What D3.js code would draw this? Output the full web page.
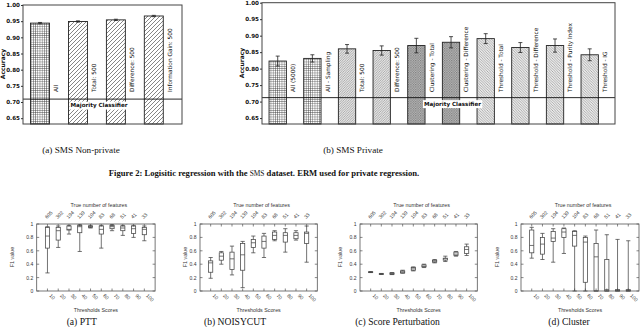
<!DOCTYPE html>
<html><head><meta charset="utf-8">
<script src="https://cdn.jsdelivr.net/npm/d3@7"></script>
<style>body{margin:0;background:#fff}svg{display:block}</style>
</head><body>
<script>
// ---------- data ----------
const nonPrivateLabels = ["All", "Total: 500", "Difference: 500", "Information Gain: 500"];
const nonPrivateAcc = [0.944, 0.949, 0.954, 0.966];
const nonPrivateErr = [0.002, 0.002, 0.002, 0.002];
const nonPrivatePattern = ["grid", "diagA", "diagA", "diagA"];
const nonPrivateMajority = 0.709;

const privateLabels = ["All (5000)", "All - Sampling", "Total: 500", "Difference: 500", "Clustering - Total",
  "Clustering - Difference", "Threshold - Total", "Threshold - Difference", "Threshold - Purity Index", "Threshold - IG"];
const privateAcc = [0.823, 0.831, 0.860, 0.855, 0.870, 0.880, 0.891, 0.864, 0.870, 0.842];
const privateErr = [0.015, 0.011, 0.013, 0.014, 0.022, 0.017, 0.015, 0.015, 0.020, 0.018];
const privatePattern = ["grid", "grid", "diagB", "diagB", "dots", "dots", "diagC", "diagC", "diagC", "diagC"];
const privateMajority = 0.712;

const accTicks = [0.65, 0.70, 0.75, 0.80, 0.85, 0.90, 0.95, 1.00];

const thresholdScores = [10, 20, 30, 40, 50, 60, 70, 80, 90, 100];
const trueFeatures = [605, 302, 194, 139, 104, 83, 68, 51, 41, 33];
const f1Ticks = [0, 0.2, 0.4, 0.6, 0.8, 1];
// [min, q1, median, q3, max]
const pttBoxes = [
  [0.27, 0.64, 0.82, 0.95, 0.96], [0.65, 0.76, 0.90, 0.95, 0.97], [0.85, 0.91, 0.92, 0.97, 0.98],
  [0.59, 0.87, 0.96, 0.98, 0.99], [0.94, 0.95, 0.96, 0.97, 0.98], [0.64, 0.85, 0.92, 0.97, 0.98],
  [0.90, 0.93, 0.96, 0.98, 0.99], [0.83, 0.90, 0.94, 0.97, 0.98], [0.80, 0.86, 0.93, 0.97, 0.98],
  [0.75, 0.84, 0.92, 0.95, 0.97]];
const noisycutBoxes = [
  [0.19, 0.28, 0.42, 0.45, 0.50], [0.40, 0.46, 0.52, 0.57, 0.59], [0.24, 0.32, 0.48, 0.58, 0.67],
  [0.05, 0.31, 0.54, 0.71, 0.74], [0.57, 0.65, 0.72, 0.77, 0.82], [0.50, 0.64, 0.74, 0.82, 0.86],
  [0.75, 0.77, 0.83, 0.88, 0.90], [0.58, 0.73, 0.83, 0.87, 0.93], [0.76, 0.78, 0.83, 0.87, 0.90],
  [0.43, 0.71, 0.86, 0.88, 0.97]];
const perturbBoxes = [
  [0.275, 0.280, 0.282, 0.285, 0.290], [0.248, 0.252, 0.255, 0.258, 0.262], [0.245, 0.250, 0.260, 0.270, 0.275],
  [0.265, 0.270, 0.285, 0.300, 0.310], [0.300, 0.310, 0.330, 0.350, 0.360], [0.350, 0.360, 0.370, 0.390, 0.400],
  [0.420, 0.430, 0.445, 0.460, 0.470], [0.440, 0.460, 0.480, 0.490, 0.520], [0.520, 0.530, 0.550, 0.580, 0.590],
  [0.530, 0.560, 0.620, 0.660, 0.700]];
const clusterBoxes = [
  [0.49, 0.57, 0.68, 0.91, 0.95], [0.47, 0.55, 0.70, 0.80, 0.86], [0.43, 0.74, 0.79, 0.89, 0.93],
  [0.56, 0.80, 0.88, 0.93, 0.94], [0.00, 0.67, 0.83, 0.89, 0.90], [0.00, 0.13, 0.73, 0.80, 0.82],
  [0.00, 0.00, 0.51, 0.71, 0.91], [0.00, 0.00, 0.02, 0.47, 0.84], [0.00, 0.00, 0.01, 0.02, 0.77],
  [0.00, 0.00, 0.01, 0.02, 0.75]];

// ---------- drawing ----------
const W = 640, H = 327;
const svg = d3.select("body").append("svg").attr("width", W).attr("height", H);
const defs = svg.append("defs");

function pattern(id, size, bg, drawFn) {
  const p = defs.append("pattern").attr("id", id).attr("patternUnits", "userSpaceOnUse")
    .attr("width", size).attr("height", size);
  p.append("rect").attr("width", size).attr("height", size).attr("fill", bg);
  drawFn(p, size);
}
pattern("grid", 2.2, "#fff", (p, s) => {
  p.append("path").attr("d", `M0,0H${s}M0,0V${s}`).attr("stroke", "#333").attr("stroke-width", 0.8);
});
pattern("diagA", 4, "#fff", (p, s) => {
  p.append("path").attr("d", `M0,${s}L${s},0M${-s / 2},${s / 2}L${s / 2},${-s / 2}M${s / 2},${s * 1.5}L${s * 1.5},${s / 2}`)
    .attr("stroke", "#333").attr("stroke-width", 0.6);
});
pattern("diagB", 2.4, "#e4e4e4", (p, s) => {
  p.append("path").attr("d", `M0,${s}L${s},0M${-s / 2},${s / 2}L${s / 2},${-s / 2}M${s / 2},${s * 1.5}L${s * 1.5},${s / 2}`)
    .attr("stroke", "#888").attr("stroke-width", 0.6);
});
pattern("diagC", 2.6, "#eaeaea", (p, s) => {
  p.append("path").attr("d", `M0,0L${s},${s}M${-s / 2},${s / 2}L${s / 2},${s * 1.5}M${s / 2},${-s / 2}L${s * 1.5},${s / 2}`)
    .attr("stroke", "#888").attr("stroke-width", 0.6);
});
pattern("dots", 2.4, "#bdbdbd", (p, s) => {
  p.append("rect").attr("x", 0).attr("y", 0).attr("width", s / 2).attr("height", s / 2).attr("fill", "#777");
  p.append("rect").attr("x", s / 2).attr("y", s / 2).attr("width", s / 2).attr("height", s / 2).attr("fill", "#888");
});

function barChart(cfg) {
  const g = svg.append("g");
  const x = d3.scaleLinear().domain(cfg.xDomain).range([cfg.left, cfg.right]);
  const y = d3.scaleLinear().domain([0.632, 1.0]).range([cfg.bottom, cfg.top]);
  const n = cfg.values.length;
  const idx = d3.range(n);
  // bars
  g.selectAll(".bar").data(idx).join("rect")
    .attr("x", i => x(i - 0.25)).attr("width", i => x(i + 0.25) - x(i - 0.25))
    .attr("y", i => y(cfg.values[i])).attr("height", i => cfg.bottom - y(cfg.values[i]))
    .attr("fill", i => `url(#${cfg.patterns[i]})`).attr("stroke", "#222").attr("stroke-width", 0.9);
  // error bars
  const eb = g.selectAll(".eb").data(idx).join("g").attr("stroke", "#222").attr("stroke-width", 0.8);
  eb.append("line").attr("x1", i => x(i)).attr("x2", i => x(i))
    .attr("y1", i => y(cfg.values[i] + cfg.errors[i])).attr("y2", i => y(cfg.values[i] - cfg.errors[i]));
  eb.append("line").attr("x1", i => x(i) - 2).attr("x2", i => x(i) + 2)
    .attr("y1", i => y(cfg.values[i] + cfg.errors[i])).attr("y2", i => y(cfg.values[i] + cfg.errors[i]));
  eb.append("line").attr("x1", i => x(i) - 2).attr("x2", i => x(i) + 2)
    .attr("y1", i => y(cfg.values[i] - cfg.errors[i])).attr("y2", i => y(cfg.values[i] - cfg.errors[i]));
  // majority line
  g.append("line").attr("x1", cfg.left).attr("x2", cfg.right)
    .attr("y1", y(cfg.majority)).attr("y2", y(cfg.majority)).attr("stroke", "#111").attr("stroke-width", 0.9);
  // majority label
  const ml = g.append("g").attr("transform", `translate(${cfg.majX},${y(cfg.majority) + 6})`);
  const mt = ml.append("text").attr("text-anchor", "middle").attr("dominant-baseline", "central")
    .attr("font-family", "DejaVu Sans").attr("font-weight", "bold").attr("font-size", 5.6)
    .attr("fill", "#111").text("Majority Classifier");
  const bb = mt.node().getBBox();
  ml.insert("rect", "text").attr("x", bb.x - 1).attr("y", bb.y - 0.5).attr("width", bb.width + 2)
    .attr("height", bb.height + 1).attr("fill", "#fff");
  // bar labels
  g.selectAll(".lab").data(idx).join("text")
    .attr("transform", i => `translate(${x(i + 0.25) + 6.5},92) rotate(-90)`)
    .attr("text-anchor", "start").attr("dominant-baseline", "central")
    .attr("font-family", "DejaVu Sans").attr("font-size", 5.8).attr("fill", "#111")
    .text(i => cfg.labels[i]);
  // frame
  g.append("rect").attr("x", cfg.left).attr("y", cfg.top).attr("width", cfg.right - cfg.left)
    .attr("height", cfg.bottom - cfg.top).attr("fill", "none").attr("stroke", "#444").attr("stroke-width", 1);
  // y axis
  const ax = g.append("g").attr("transform", `translate(${cfg.left},0)`)
    .call(d3.axisLeft(y).tickValues(accTicks).tickFormat(d3.format(".2f")).tickSize(2).tickPadding(1));
  ax.select(".domain").remove();
  ax.selectAll("line").attr("stroke", "#333");
  ax.selectAll("text").attr("font-family", "DejaVu Sans").attr("font-weight", "bold").attr("font-size", 5.6).attr("fill", "#111");
  g.append("text").attr("transform", `translate(${cfg.yLabX},${cfg.yLabY}) rotate(-90)`)
    .attr("text-anchor", "middle").attr("dominant-baseline", "central")
    .attr("font-family", "DejaVu Sans").attr("font-weight", "bold").attr("font-size", 6).attr("fill", "#111").text("Accuracy");
}

barChart({left: 23, right: 182, top: 5, bottom: 124, xDomain: [-0.449, 3.744],
  values: nonPrivateAcc, errors: nonPrivateErr, labels: nonPrivateLabels, patterns: nonPrivatePattern,
  majority: nonPrivateMajority, majX: 99, yLabX: 2, yLabY: 64});
barChart({left: 262, right: 615, top: 2.7, bottom: 124, xDomain: [-0.453, 9.73],
  values: privateAcc, errors: privateErr, labels: privateLabels, patterns: privatePattern,
  majority: privateMajority, majX: 452.5, yLabX: 241, yLabY: 63});

// captions
const serif = "Liberation Serif";
svg.append("text").attr("x", 81).attr("y", 153).attr("text-anchor", "middle").attr("font-family", serif)
  .attr("font-size", 9.2).attr("fill", "#111").text("(a) SMS Non-private");
svg.append("text").attr("x", 353).attr("y", 153).attr("text-anchor", "middle").attr("font-family", serif)
  .attr("font-size", 9.2).attr("fill", "#111").text("(b) SMS Private");
const fc = svg.append("text").attr("x", 264).attr("y", 175.5).attr("text-anchor", "middle").attr("font-family", serif)
  .attr("font-size", 8.6).attr("font-weight", "bold").attr("fill", "#111");
fc.append("tspan").text("Figure 2: Logisitic regression with the ");
fc.append("tspan").attr("font-weight", "normal").attr("font-size", 7.4).text("SMS");
fc.append("tspan").text(" dataset. ERM used for private regression.");

// ---------- box plot panels ----------
const sans = "Liberation Sans";
function boxPanel(cfg) {
  const g = svg.append("g");
  const top = 224, bottom = 291;
  const x = d3.scaleLinear().domain([0, 11]).range([cfg.left, cfg.right]);
  const y = d3.scaleLinear().domain([0, 1]).range([bottom, top]);
  const idx = d3.range(thresholdScores.length);
  const tc = "#555";
  // frame
  g.append("rect").attr("x", cfg.left).attr("y", top).attr("width", cfg.right - cfg.left).attr("height", bottom - top)
    .attr("fill", "none").attr("stroke", tc).attr("stroke-width", 0.8);
  // ticks (inward, all sides)
  f1Ticks.forEach(t => {
    g.append("line").attr("x1", cfg.left).attr("x2", cfg.left + 2.5).attr("y1", y(t)).attr("y2", y(t)).attr("stroke", tc).attr("stroke-width", 0.7);
    g.append("line").attr("x1", cfg.right).attr("x2", cfg.right - 2.5).attr("y1", y(t)).attr("y2", y(t)).attr("stroke", tc).attr("stroke-width", 0.7);
  });
  g.selectAll(".yl").data(f1Ticks).join("text").attr("x", cfg.left - 3.5).attr("y", d => y(d))
    .attr("text-anchor", "end").attr("dominant-baseline", "central").attr("font-family", sans)
    .attr("font-size", 5).attr("fill", "#333").text(d => d3.format("~g")(d));
  idx.forEach(i => {
    g.append("line").attr("x1", x(i + 1)).attr("x2", x(i + 1)).attr("y1", bottom).attr("y2", bottom - 2.5).attr("stroke", tc).attr("stroke-width", 0.7);
    g.append("line").attr("x1", x(i + 1)).attr("x2", x(i + 1)).attr("y1", top).attr("y2", top + 2.5).attr("stroke", tc).attr("stroke-width", 0.7);
  });
  g.selectAll(".xl").data(idx).join("text")
    .attr("transform", i => `translate(${x(i + 1) + 1.5},${bottom + 5}) rotate(45)`)
    .attr("font-family", sans).attr("font-size", 5).attr("fill", "#333").text(i => thresholdScores[i]);
  g.selectAll(".x2l").data(idx).join("text")
    .attr("transform", i => `translate(${x(i + 1) - 0.5},${top - 5}) rotate(-45)`)
    .attr("font-family", sans).attr("font-size", 5).attr("fill", "#333").text(i => trueFeatures[i]);
  // boxes
  const bw = 2.1, cw = 2.1;
  const b = g.selectAll(".box").data(cfg.boxes).join("g").attr("stroke", "#444").attr("stroke-width", 0.75).attr("fill", "none");
  b.append("line").attr("x1", (d, i) => x(i + 1)).attr("x2", (d, i) => x(i + 1)).attr("y1", d => y(d[0])).attr("y2", d => y(d[1]));
  b.append("line").attr("x1", (d, i) => x(i + 1)).attr("x2", (d, i) => x(i + 1)).attr("y1", d => y(d[3])).attr("y2", d => y(d[4]));
  b.append("line").attr("x1", (d, i) => x(i + 1) - cw).attr("x2", (d, i) => x(i + 1) + cw).attr("y1", d => y(d[0])).attr("y2", d => y(d[0]));
  b.append("line").attr("x1", (d, i) => x(i + 1) - cw).attr("x2", (d, i) => x(i + 1) + cw).attr("y1", d => y(d[4])).attr("y2", d => y(d[4]));
  b.append("rect").attr("x", (d, i) => x(i + 1) - bw).attr("width", 2 * bw)
    .attr("y", d => y(d[3])).attr("height", d => Math.max(0.6, y(d[1]) - y(d[3])));
  b.append("line").attr("x1", (d, i) => x(i + 1) - bw).attr("x2", (d, i) => x(i + 1) + bw).attr("y1", d => y(d[2])).attr("y2", d => y(d[2]));
  // labels
  g.append("text").attr("x", (cfg.left + cfg.right) / 2 + 3).attr("y", 204.5).attr("text-anchor", "middle")
    .attr("dominant-baseline", "central").attr("font-family", sans).attr("font-size", 5.3).attr("fill", "#333").text("True number of features");
  g.append("text").attr("x", (cfg.left + cfg.right) / 2).attr("y", 309.5).attr("text-anchor", "middle")
    .attr("dominant-baseline", "central").attr("font-family", sans).attr("font-size", 5.3).attr("fill", "#333").text("Thresholds Scores");
  g.append("text").attr("transform", `translate(${cfg.yLabX},257) rotate(-90)`).attr("text-anchor", "middle")
    .attr("dominant-baseline", "central").attr("font-family", sans).attr("font-size", 5.3).attr("fill", "#333").text("F1 value");
  g.append("text").attr("x", cfg.capX).attr("y", 324.5).attr("text-anchor", "middle").attr("font-family", serif)
    .attr("font-size", 9.6).attr("fill", "#111").text(cfg.caption);
}
boxPanel({left: 36.7, right: 155.1, boxes: pttBoxes, yLabX: 12, capX: 81.7, caption: "(a) PTT"});
boxPanel({left: 200, right: 317.3, boxes: noisycutBoxes, yLabX: 185, capX: 235, caption: "(b) NOISYCUT"});
boxPanel({left: 360, right: 477.3, boxes: perturbBoxes, yLabX: 340, capX: 397.5, caption: "(c) Score Perturbation"});
boxPanel({left: 521, right: 639, boxes: clusterBoxes, yLabX: 496.7, capX: 569, caption: "(d) Cluster"});
</script>
</body></html>
